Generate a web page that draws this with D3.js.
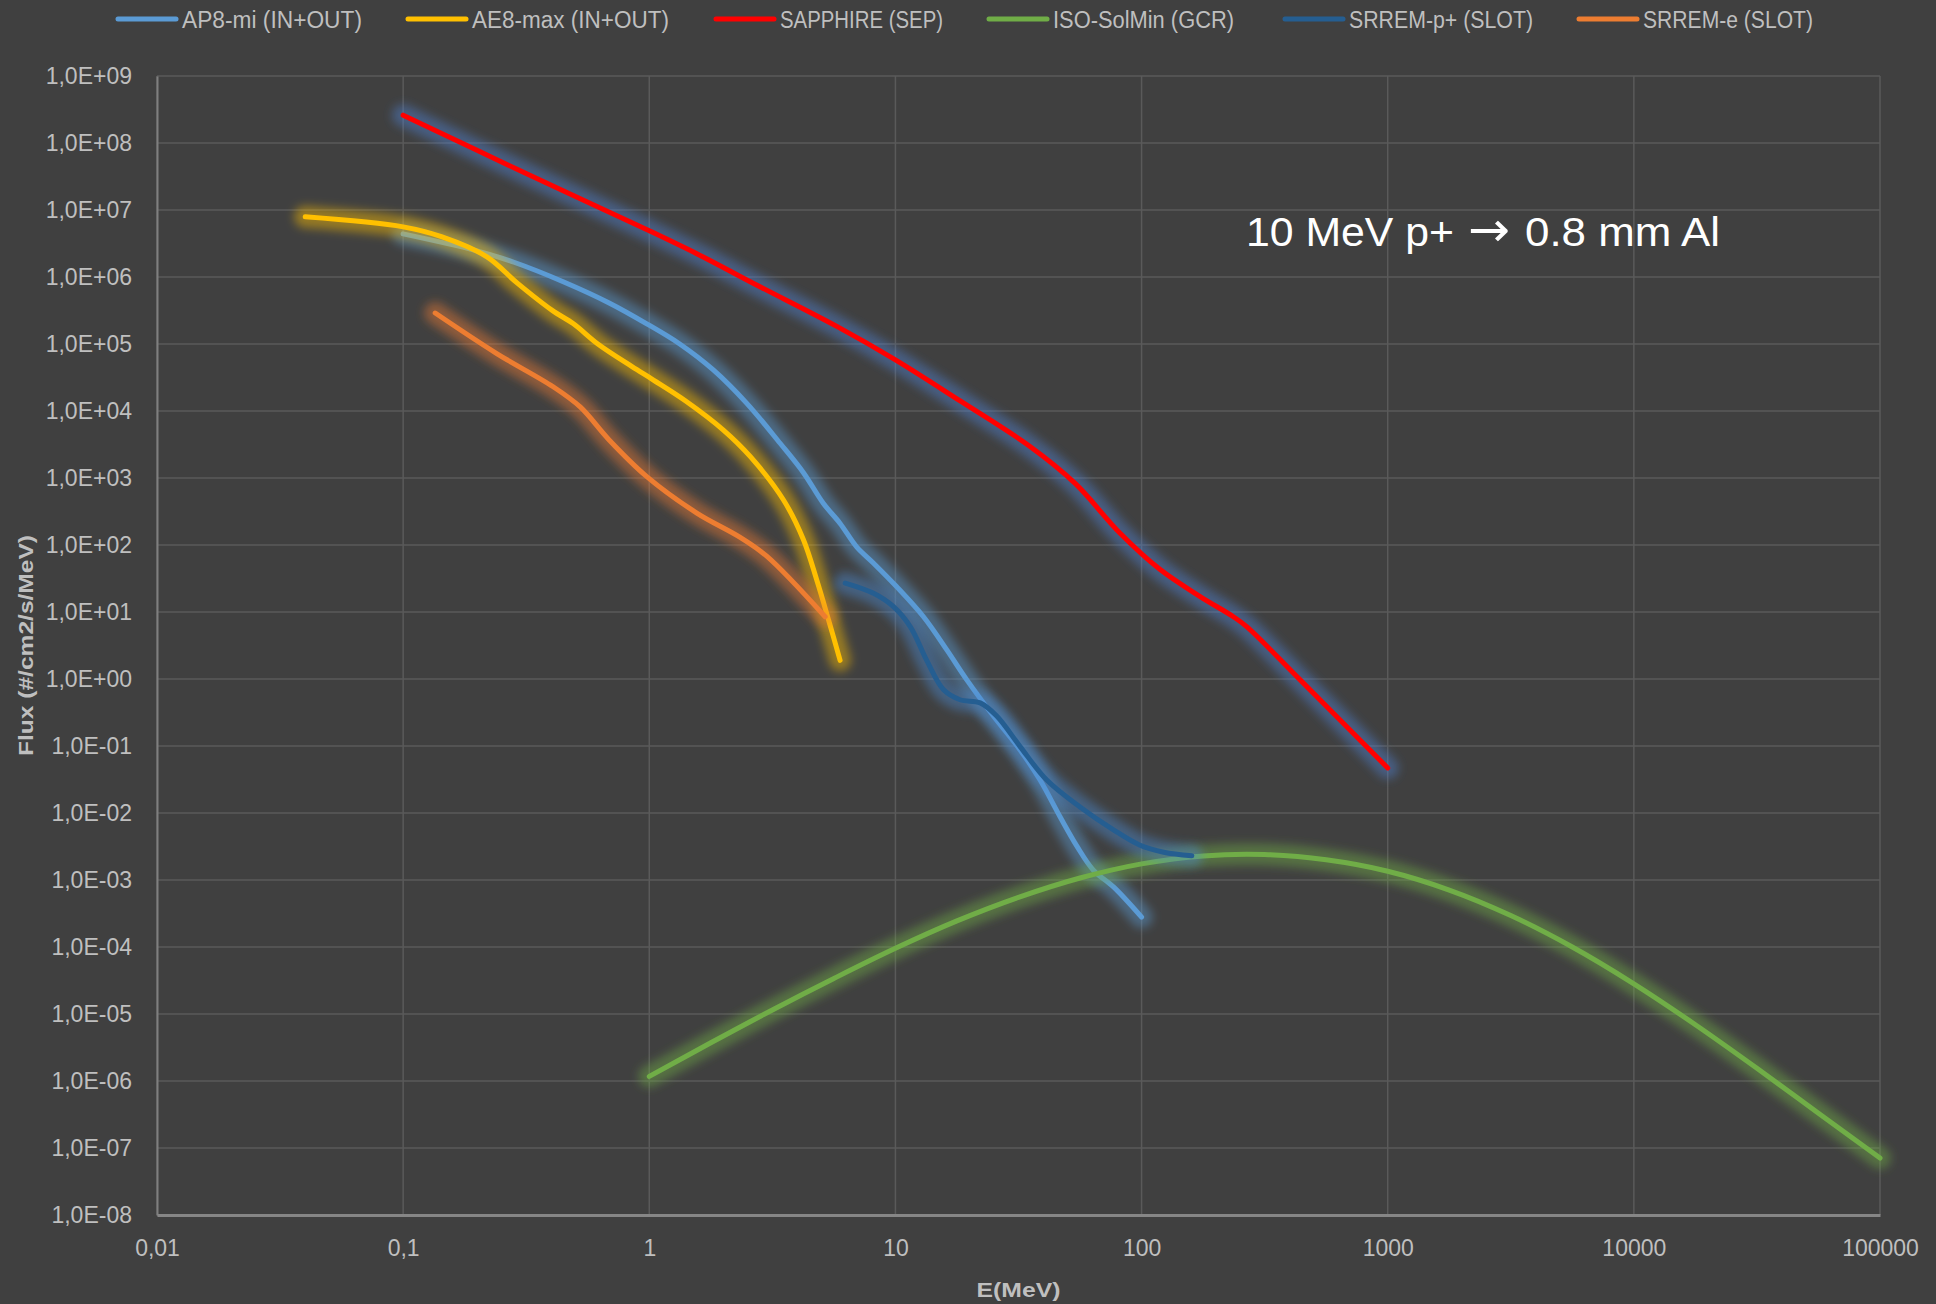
<!DOCTYPE html>
<html>
<head>
<meta charset="utf-8">
<script src="https://cdn.jsdelivr.net/npm/d3@7"></script>
<style>
  html, body { margin: 0; padding: 0; background: #404040; }
  svg { display: block; }
  text { font-family: "Liberation Sans", Arial, sans-serif; }
</style>
</head>
<body>
<svg id="chart" width="1936" height="1304"></svg>
<script>
// ---------- data ----------
const xTickValues = [0.01, 0.1, 1, 10, 100, 1000, 10000, 100000];
const xTickLabels = ["0,01", "0,1", "1", "10", "100", "1000", "10000", "100000"];
const yTickValues = [1e9, 1e8, 1e7, 1e6, 1e5, 1e4, 1e3, 1e2, 1e1, 1e0, 1e-1, 1e-2, 1e-3, 1e-4, 1e-5, 1e-6, 1e-7, 1e-8];
const yTickLabels = ["1,0E+09", "1,0E+08", "1,0E+07", "1,0E+06", "1,0E+05", "1,0E+04", "1,0E+03", "1,0E+02", "1,0E+01",
                     "1,0E+00", "1,0E-01", "1,0E-02", "1,0E-03", "1,0E-04", "1,0E-05", "1,0E-06", "1,0E-07", "1,0E-08"];

const seriesNames = ["AP8-mi (IN+OUT)", "AE8-max (IN+OUT)", "SAPPHIRE (SEP)", "ISO-SolMin (GCR)", "SRREM-p+ (SLOT)", "SRREM-e (SLOT)"];

const ap8Energy = [0.1, 0.196, 0.282, 0.447, 0.687, 0.977, 1.33, 1.82, 2.49, 3.40, 4.23, 5.09, 5.96, 6.97, 8.13,
                   10.1, 13.0, 16.2, 19.5, 25.0, 32.1, 38.7, 46.7, 54.6, 63.7, 76.9, 100];
const ap8Flux = [4.4e6, 2.5e6, 1.66e6, 8.5e5, 4.1e5, 2.0e5, 1.0e5, 4.1e4, 1.3e4, 3.3e3, 1.2e3, 4.2e2, 2.1e2, 93, 54,
                 24, 8.5, 2.7, 0.97, 0.28, 0.087, 0.031, 8.7e-3, 3.2e-3, 1.4e-3, 7.9e-4, 2.8e-4];

const ae8Energy = [0.04, 0.1, 0.143, 0.219, 0.291, 0.402, 0.492, 0.618, 0.851, 1.04, 1.41, 2.0, 2.57, 3.51, 4.23, 4.79, 5.35, 5.96];
const ae8Flux = [7.9e6, 5.6e6, 4.0e6, 2.0e6, 8.1e5, 3.2e5, 2.0e5, 1.0e5, 4.6e4, 2.9e4, 1.4e4, 5.2e3, 2.1e3, 4.7e2, 1.2e2, 30, 7.6, 1.9];

const sapphireEnergy = [0.1, 0.316, 1.0, 1.61, 2.69, 5.83, 10, 18.4, 35.0, 53.7, 81.8, 119, 173, 236, 268, 441, 1000];
const sapphireFlux = [2.6e8, 3.5e7, 4.9e6, 2.1e6, 7.8e5, 1.8e5, 5.8e4, 1.4e4, 3.0e3, 8.3e2, 1.5e2, 43, 17, 8.5, 6.0, 0.97, 0.047];

const isoEnergy = [1, 1.778, 3.162, 5.623, 10, 17.78, 31.62, 56.23, 100, 177.8, 316.2, 562.3, 1000,
                   1778, 3162, 5623, 10000, 17783, 31623, 56234, 100000];
const isoFlux = [1.17e-6, 3.72e-6, 1.15e-5, 3.39e-5, 9.55e-5, 2.45e-4, 5.50e-4, 1.07e-3, 1.74e-3, 2.29e-3, 2.40e-3, 2.0e-3, 1.35e-3,
                 7.08e-4, 2.95e-4, 1.0e-4, 2.82e-5, 6.92e-6, 1.55e-6, 3.31e-7, 7.08e-8];

const srremPEnergy = [6.25, 8.15, 9.82, 11.5, 13.4, 15.7, 18.3, 22.1, 25.8, 32.1, 41.2, 56.2, 76.9, 98.6, 123, 160];
const srremPFlux = [27, 19, 12, 6.0, 1.9, 0.69, 0.49, 0.44, 0.28, 0.098, 0.031, 0.0123, 5.6e-3, 3.3e-3, 2.6e-3, 2.3e-3];

const srremEEnergy = [0.135, 0.240, 0.407, 0.524, 0.687, 0.977, 1.56, 2.34, 3.0, 5.18];
const srremEFlux = [2.9e5, 7.2e4, 2.3e4, 1.15e4, 3.7e3, 1.05e3, 3.0e2, 1.3e2, 68, 8.5];

const annotationParts = ["10 MeV p+", "\u2192", "0.8 mm Al"];

// ---------- layout ----------
const svg = d3.select("#chart");
const plot = { left: 157, right: 1880, top: 76, bottom: 1215 };

const x = d3.scaleLog().domain([0.01, 100000]).range([plot.left, plot.right]);
const y = d3.scaleLog().domain([1e-8, 1e9]).range([plot.bottom, plot.top]);

const series = [
  { name: seriesNames[0], e: ap8Energy, f: ap8Flux, color: "#5b9bd5", glow: "#5b9bd5" },
  { name: seriesNames[1], e: ae8Energy, f: ae8Flux, color: "#ffc000", glow: "#ffc000" },
  { name: seriesNames[2], e: sapphireEnergy, f: sapphireFlux, color: "#ff0000", glow: "#5080d0" },
  { name: seriesNames[3], e: isoEnergy, f: isoFlux, color: "#70ad47", glow: "#70ad47" },
  { name: seriesNames[4], e: srremPEnergy, f: srremPFlux, color: "#255e91", glow: "#4a8ad0" },
  { name: seriesNames[5], e: srremEEnergy, f: srremEFlux, color: "#ed7d31", glow: "#ed7d31" }
];

const defs = svg.append("defs");
defs.append("filter").attr("id", "glow")
  .attr("filterUnits", "userSpaceOnUse")
  .attr("x", 0).attr("y", 0).attr("width", 1936).attr("height", 1304)
  .append("feGaussianBlur").attr("stdDeviation", 5);

// gridlines
const grid = svg.append("g");
grid.selectAll("line.h").data(yTickValues).join("line")
  .attr("x1", plot.left).attr("x2", plot.right)
  .attr("y1", d => y(d)).attr("y2", d => y(d))
  .attr("stroke", "#5a5a5a").attr("stroke-width", 1.5);
grid.selectAll("line.v").data(xTickValues).join("line")
  .attr("x1", d => x(d)).attr("x2", d => x(d))
  .attr("y1", plot.top).attr("y2", plot.bottom)
  .attr("stroke", "#5a5a5a").attr("stroke-width", 1.5);

// axes
const yAxis = d3.axisLeft(y).tickValues(yTickValues)
  .tickFormat((d, i) => yTickLabels[i]).tickSize(0).tickPadding(25);
const gy = svg.append("g").attr("transform", `translate(${plot.left},0)`).call(yAxis);
gy.select(".domain").attr("stroke", "#7f7f7f").attr("stroke-width", 2);
gy.selectAll("text").attr("fill", "#bfbfbf").style("font-size", "23px")
  .style("font-family", "'Liberation Sans', Arial, sans-serif");

const xAxis = d3.axisBottom(x).tickValues(xTickValues)
  .tickFormat((d, i) => xTickLabels[i]).tickSize(0).tickPadding(25);
const gx = svg.append("g").attr("transform", `translate(0,${plot.bottom})`).call(xAxis);
gx.select(".domain").attr("stroke", "#868686").attr("stroke-width", 3);
gx.selectAll("text").attr("fill", "#bfbfbf").style("font-size", "23px")
  .style("font-family", "'Liberation Sans', Arial, sans-serif");

// lines
const line = d3.line()
  .x(d => x(d[0])).y(d => y(d[1]))
  .curve(d3.curveCatmullRom.alpha(0.5));

const lines = svg.append("g");
series.forEach(s => {
  const pts = s.e.map((e, i) => [e, s.f[i]]);
  const g = lines.append("g");
  g.append("path").attr("d", line(pts))
    .attr("fill", "none").attr("stroke", s.glow).attr("stroke-opacity", 0.45)
    .attr("stroke-width", 22).attr("stroke-linecap", "round").attr("stroke-linejoin", "round")
    .attr("filter", "url(#glow)");
  g.append("path").attr("d", line(pts))
    .attr("fill", "none").attr("stroke", s.color)
    .attr("stroke-width", 5).attr("stroke-linecap", "round").attr("stroke-linejoin", "round");
});

// legend
const legendX = [118, 408, 716, 989, 1285, 1579];
const legendW = [180, 197, 163, 181, 184, 170];
const legend = svg.append("g");
series.forEach((s, i) => {
  legend.append("line")
    .attr("x1", legendX[i]).attr("x2", legendX[i] + 58)
    .attr("y1", 19).attr("y2", 19)
    .attr("stroke", s.color).attr("stroke-width", 5).attr("stroke-linecap", "round");
  legend.append("text")
    .attr("x", legendX[i] + 64).attr("y", 28)
    .attr("fill", "#bfbfbf").style("font-size", "23px")
    .attr("textLength", legendW[i]).attr("lengthAdjust", "spacingAndGlyphs")
    .text(s.name);
});

// axis titles
svg.append("text")
  .attr("transform", `translate(33,${(plot.top + plot.bottom) / 2}) rotate(-90)`)
  .attr("text-anchor", "middle")
  .attr("fill", "#bfbfbf").style("font-size", "21px").style("font-weight", "bold")
  .attr("textLength", 221).attr("lengthAdjust", "spacingAndGlyphs")
  .text("Flux (#/cm2/s/MeV)");

svg.append("text")
  .attr("x", (plot.left + plot.right) / 2).attr("y", 1297)
  .attr("text-anchor", "middle")
  .attr("fill", "#bfbfbf").style("font-size", "21px").style("font-weight", "bold")
  .attr("textLength", 84).attr("lengthAdjust", "spacingAndGlyphs")
  .text("E(MeV)");

// annotation
const ann = svg.append("text").attr("y", 246).attr("fill", "#ffffff").style("font-size", "40px");
ann.append("tspan").attr("x", 1246).attr("textLength", 208).attr("lengthAdjust", "spacingAndGlyphs")
  .text(annotationParts[0]);
ann.append("tspan").attr("x", 1468).style("font-family", "'DejaVu Sans', sans-serif").style("font-size", "48px")
  .attr("textLength", 42).attr("lengthAdjust", "spacingAndGlyphs")
  .text(annotationParts[1]);
ann.append("tspan").attr("x", 1525).attr("textLength", 195).attr("lengthAdjust", "spacingAndGlyphs")
  .text(annotationParts[2]);
</script>
</body>
</html>
